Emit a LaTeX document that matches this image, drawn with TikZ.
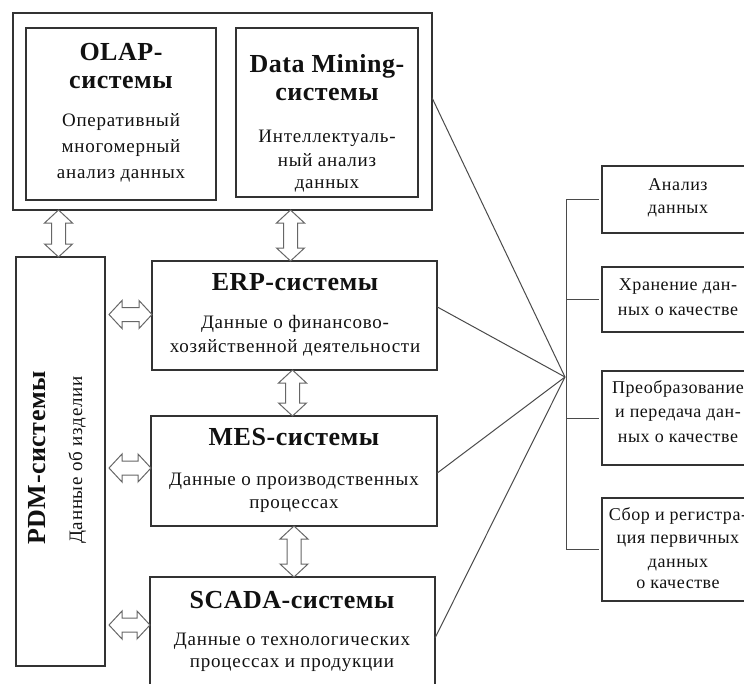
\documentclass[tikz,border=0pt]{standalone}
\usepackage{fontspec}
\setmainfont{Liberation Serif}
\newfontfamily\lsfont[LetterSpace=4]{Liberation Serif}
\newfontfamily\lsfontb[LetterSpace=2]{Liberation Serif}
\newfontfamily\lsfontr[LetterSpace=3]{Liberation Serif}
\usetikzlibrary{calc}
\definecolor{boxc}{HTML}{333333}
\definecolor{linec}{HTML}{4A4A4A}
\definecolor{arrc}{HTML}{666666}
\definecolor{txtc}{HTML}{111111}
\newcommand\hollowarrow[2]{%
  \draw[harrow] (#1) -- ($(#1)!13pt!(#2)!14pt!90:(#2)$) -- ($(#1)!13pt!(#2)!7pt!90:(#2)$)
   -- ($(#2)!13pt!(#1)!7pt!90:(#2)$) -- ($(#2)!13pt!(#1)!14pt!90:(#2)$) -- (#2)
   -- ($(#2)!13pt!(#1)!14pt!-90:(#2)$) -- ($(#2)!13pt!(#1)!7pt!-90:(#2)$)
   -- ($(#1)!13pt!(#2)!7pt!-90:(#2)$) -- ($(#1)!13pt!(#2)!14pt!-90:(#2)$) -- cycle;}
\begin{document}
\begin{tikzpicture}[x=1pt,y=-1pt,
  box/.style={draw=boxc, line width=1.1pt, anchor=north west, inner sep=0pt, outer sep=0pt},
  ttl/.style={anchor=base, inner sep=0pt, text=txtc, font=\lsfontb\bfseries\fontsize{26}{26}\selectfont},
  txt/.style={anchor=base, inner sep=0pt, text=txtc, font=\lsfont\fontsize{19}{19}\selectfont},
  rtxt/.style={anchor=base, inner sep=0pt, text=txtc, font=\lsfontr\fontsize{18}{18}\selectfont},
  link/.style={draw=linec, line width=1pt},
  harrow/.style={draw=arrc, line width=1pt, line join=miter}]
\useasboundingbox (0,0) rectangle (744,683);
\clip (0,0) rectangle (744,683);
% boxes
\node[box, minimum width=419pt, minimum height=197pt] (frame) at (13,13) {};
\node[box, minimum width=190pt, minimum height=172pt] (olap) at (26,28) {};
\node[box, minimum width=182pt, minimum height=169pt] (dm) at (236,28) {};
\node[box, minimum width=89pt, minimum height=409pt] (pdm) at (16,257) {};
\node[box, minimum width=285pt, minimum height=109pt] (erp) at (152,261) {};
\node[box, minimum width=286pt, minimum height=110pt] (mes) at (151,416) {};
\node[box, minimum width=285pt, minimum height=130pt] (scada) at (150,577) {};
\node[box, minimum width=152pt, minimum height=67pt] (r1) at (602,166) {};
\node[box, minimum width=152pt, minimum height=65pt] (r2) at (602,267) {};
\node[box, minimum width=152pt, minimum height=94pt] (r3) at (602,371) {};
\node[box, minimum width=152pt, minimum height=103pt] (r4) at (602,498) {};
% texts
\node[ttl] (olapt1) at (121,60) {OLAP-};
\node[ttl] (olapt2) at (121,88) {системы};
\node[txt] (olapb1) at (121,126) {Оперативный};
\node[txt] (olapb2) at (121,152) {многомерный};
\node[txt] (olapb3) at (121,178) {анализ данных};
\node[ttl] (dmt1) at (327,72) {Data Mining-};
\node[ttl] (dmt2) at (327,100) {системы};
\node[txt] (dmb1) at (327,142) {Интеллектуаль-};
\node[txt] (dmb2) at (327,166) {ный анализ};
\node[txt] (dmb3) at (327,188) {данных};
\node[ttl, rotate=90] (pdmt) at (45,458) {PDM-системы};
\node[txt, rotate=90] (pdmb) at (82,460) {Данные об изделии};
\node[ttl] (erpt) at (295,290) {ERP-системы};
\node[txt] (erpb1) at (295,328) {Данные о финансово-};
\node[txt] (erpb2) at (295,352) {хозяйственной деятельности};
\node[ttl] (mest) at (294,445) {MES-системы};
\node[txt] (mesb1) at (294,485) {Данные о производственных};
\node[txt] (mesb2) at (294,508) {процессах};
\node[ttl] (scadat) at (292,608) {SCADA-системы};
\node[txt] (scadab1) at (292,645) {Данные о технологических};
\node[txt] (scadab2) at (292,667) {процессах и продукции};
\node[rtxt] (r1a) at (678,190) {Анализ};
\node[rtxt] (r1b) at (678,213) {данных};
\node[rtxt] (r2a) at (678,290) {Хранение дан-};
\node[rtxt] (r2b) at (678,315) {ных о качестве};
\node[rtxt] (r3a) at (678,393) {Преобразование};
\node[rtxt] (r3b) at (678,417) {и передача дан-};
\node[rtxt] (r3c) at (678,442) {ных о качестве};
\node[rtxt] (r4a) at (678,520) {Сбор и регистра-};
\node[rtxt] (r4b) at (678,543) {ция первичных};
\node[rtxt] (r4c) at (678,567) {данных};
\node[rtxt] (r4d) at (678,588) {о качестве};
% hollow double arrows
\coordinate (a1) at ($(pdm.north)+(-2,0)$);
\coordinate (a2) at ($(erp.north)+(-4,0)$);
\hollowarrow{a1 |- frame.south}{a1}
\hollowarrow{a2 |- frame.south}{a2}
\coordinate (a3) at ($(erp.south)+(-2,0)$);
\hollowarrow{a3}{a3 |- mes.north}
\hollowarrow{mes.south}{mes.south |- scada.north}
\coordinate (h1) at ($(erp.west)+(0,-1)$);
\coordinate (h2) at ($(mes.west)+(0,-3)$);
\coordinate (h3) at ($(scada.north west)+(0,48)$);
\coordinate (p1) at ($(pdm.east |- h1)+(4,0)$);
\coordinate (p2) at ($(pdm.east |- h2)+(4,0)$);
\coordinate (p3) at ($(pdm.east |- h3)+(4,0)$);
\hollowarrow{p1}{h1}
\hollowarrow{p2}{h2}
\hollowarrow{p3}{h3}
% links to hub
\coordinate (hub) at (565,377);
\draw[link] ($(frame.north east)!0.43!(frame.south east)$) -- (hub);
\draw[link] ($(erp.north east)!0.42!(erp.south east)$) -- (hub);
\draw[link] ($(mes.north east)!0.52!(mes.south east)$) -- (hub);
\draw[link] ($(scada.north east)+(0,61)$) -- (hub);
% bracket
\coordinate (bx) at (566,0);
\draw[link] (bx |- r1.west) -- (bx |- r4.west);
\foreach \r in {r1,r2,r3,r4} \draw[link, shorten >=3pt] (bx |- \r.west) -- (\r.west);
\end{tikzpicture}
\end{document}
